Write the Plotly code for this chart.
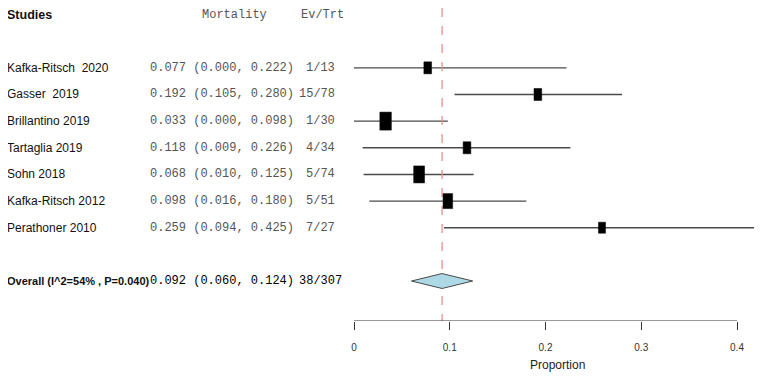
import plotly.graph_objects as go

# ---------------- data ----------------
studies = ["Kafka-Ritsch  2020", "Gasser  2019", "Brillantino 2019", "Tartaglia 2019",
           "Sohn 2018", "Kafka-Ritsch 2012", "Perathoner 2010"]
events = [1, 15, 1, 4, 5, 5, 7]
totals = [13, 78, 30, 34, 74, 51, 27]
props = [0.077, 0.192, 0.033, 0.118, 0.068, 0.098, 0.259]
ci_low = [0.000, 0.105, 0.000, 0.009, 0.010, 0.016, 0.094]
ci_high = [0.222, 0.280, 0.098, 0.226, 0.125, 0.180, 0.425]
weights = [10.4, 10.4, 23.3, 10.4, 20.8, 16.2, 8.7]

overall_label = "Overall (I^2=54% , P=0.040)"
overall_est = 0.092
overall_low = 0.060
overall_high = 0.124
overall_ev = "38/307"

x_ticks = [0, 0.1, 0.2, 0.3, 0.4]
x_tick_text = ["0", "0.1", "0.2", "0.3", "0.4"]

# ---------------- layout helpers ----------------
OFF = 8                      # browser default body margin
WIN_W, WIN_H = 762, 377
W, H = WIN_W - OFF, WIN_H - OFF
ROW_PX = 26.65
first_row = 2
rows = [first_row + i for i in range(len(studies))]
overall_row = rows[-1] + 2
axis_row = overall_row + 1.5
axis_px = 321                                    # window pixel of axis line
top_row = axis_row - (axis_px - OFF) / ROW_PX    # row at top of figure

SANS = "Liberation Sans, Arial, sans-serif"
MONO = "Liberation Mono, DejaVu Sans Mono, Courier New, monospace"

fig = go.Figure()

# CI lines
cx, cy = [], []
for r, l, h in zip(rows, ci_low, ci_high):
    cx += [l, h, None]
    cy += [r, r, None]
fig.add_trace(go.Scatter(x=cx, y=cy, mode="lines",
                         line=dict(color="#4a4a4a", width=1.4),
                         hoverinfo="skip", showlegend=False))

# reference (overall) dashed line
fig.add_trace(go.Scatter(x=[overall_est, overall_est], y=[top_row, axis_row], mode="lines",
                         line=dict(color="#f28a8a", width=1.3, dash="dash"),
                         hoverinfo="skip", showlegend=False))

# boxes (sized by weight)
wmax = max(weights)
for r, p, w in zip(rows, props, weights):
    hpx = 18 * (w / wmax) ** 0.5
    wpx = 0.64 * hpx
    fig.add_shape(type="rect", xref="x", yref="y", xsizemode="pixel", ysizemode="pixel",
                  xanchor=p, yanchor=r, x0=-wpx / 2, x1=wpx / 2, y0=-hpx / 2, y1=hpx / 2,
                  fillcolor="black", line=dict(color="black", width=0.5))

# overall diamond
dh = 0.28
fig.add_trace(go.Scatter(
    x=[overall_low, overall_est, overall_high, overall_est, overall_low],
    y=[overall_row, overall_row - dh, overall_row, overall_row + dh, overall_row],
    mode="lines", fill="toself", fillcolor="#add8e6",
    line=dict(color="#4a4a4a", width=1), hoverinfo="skip", showlegend=False))

# axis line (only across tick range)
fig.add_trace(go.Scatter(x=[x_ticks[0], x_ticks[-1]], y=[axis_row, axis_row], mode="lines",
                         line=dict(color="#333333", width=1.2), hoverinfo="skip",
                         showlegend=False))

# ---------------- text columns ----------------
def px(xp):
    """window pixel -> paper fraction"""
    return (xp - OFF) / W

ann = []
ann.append(dict(x=px(5), y=0, xref="paper", yref="y", text="<b>Studies</b>",
                xanchor="left", showarrow=False, font=dict(family=SANS, size=12.5, color="#111")))
ann.append(dict(x=px(234), y=0, xref="paper", yref="y", text="Mortality",
                xanchor="center", showarrow=False, font=dict(family=MONO, size=12, color="#555")))
ann.append(dict(x=px(322), y=0, xref="paper", yref="y", text="Ev/Trt",
                xanchor="center", showarrow=False, font=dict(family=MONO, size=12, color="#555")))

for r, s, p, l, h, e, n in zip(rows, studies, props, ci_low, ci_high, events, totals):
    ann.append(dict(x=px(5), y=r, xref="paper", yref="y", text=s.replace(" ", "\u00a0"),
                    xanchor="left", showarrow=False, font=dict(family=SANS, size=12, color="#111")))
    mt = f"{p:.3f} ({l:.3f}, {h:.3f})".replace(" ", "\u00a0")
    ann.append(dict(x=px(148), y=r, xref="paper", yref="y", text=mt,
                    xanchor="left", showarrow=False, font=dict(family=MONO, size=12, color="#555")))
    ann.append(dict(x=px(337), y=r, xref="paper", yref="y", text=f"{e}/{n}",
                    xanchor="right", showarrow=False, font=dict(family=MONO, size=12, color="#555")))

ann.append(dict(x=px(5), y=overall_row, xref="paper", yref="y", text=f"<b>{overall_label}</b>",
                xanchor="left", showarrow=False, font=dict(family=SANS, size=11, color="#111")))
ot = f"{overall_est:.3f} ({overall_low:.3f}, {overall_high:.3f})".replace(" ", "\u00a0")
ann.append(dict(x=px(148), y=overall_row, xref="paper", yref="y", text=ot,
                xanchor="left", showarrow=False, font=dict(family=MONO, size=12, color="#000")))
ann.append(dict(x=px(344), y=overall_row, xref="paper", yref="y", text=overall_ev,
                xanchor="right", showarrow=False, font=dict(family=MONO, size=12, color="#000")))

ann.append(dict(x=px(557), y=0, xref="paper", yref="paper", text="Proportion",
                xanchor="center", yanchor="middle", yshift=-44, showarrow=False,
                font=dict(family=SANS, size=12, color="#222")))

# x range so that 0 -> 354 px and 0.4 -> 737 px (window pixels)
scale = (737 - 354) / 0.4
x0_px = 354 - OFF
x_range = [-x0_px / scale, (W - x0_px) / scale]

fig.update_layout(
    width=W, height=H,
    margin=dict(l=0, r=0, t=0, b=H - (axis_px - OFF)),
    plot_bgcolor="white", paper_bgcolor="white",
    annotations=ann,
    xaxis=dict(range=x_range, showgrid=False, zeroline=False, showline=False,
               tickmode="array", tickvals=x_ticks, ticktext=x_tick_text,
               ticks="outside", ticklen=8, tickwidth=1.2, tickcolor="#333",
               ticklabelstandoff=9,
               tickfont=dict(family=SANS, size=10, color="#333")),
    yaxis=dict(range=[axis_row, top_row], visible=False, showgrid=False, zeroline=False),
)

fig.write_html("out.html")
